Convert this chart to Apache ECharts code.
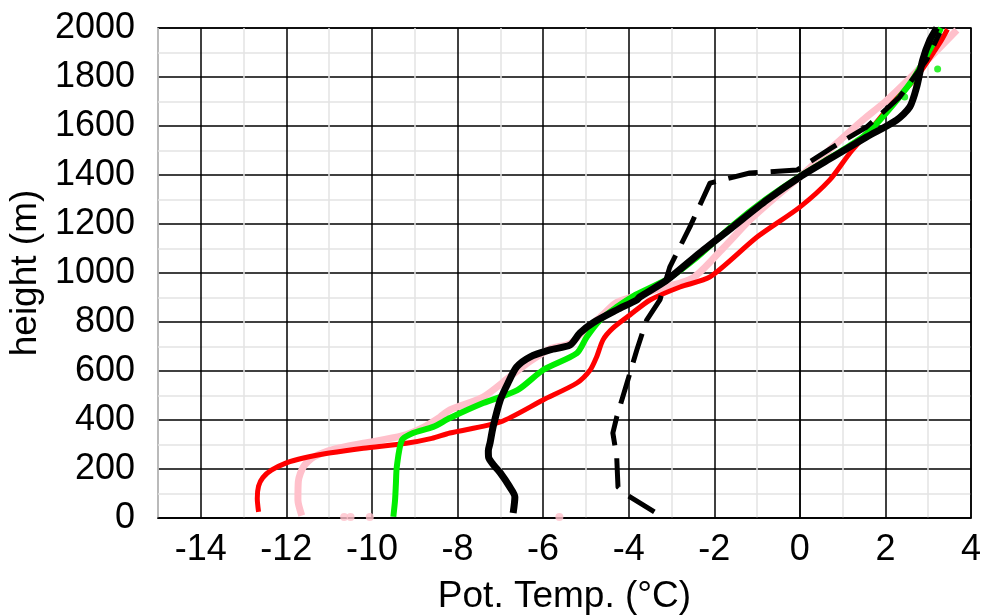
<!DOCTYPE html>
<html>
<head>
<meta charset="utf-8">
<script src="https://cdn.jsdelivr.net/npm/echarts@6/dist/echarts.min.js"></script>
<style>
  html, body { margin: 0; padding: 0; background: #fff; }
  #chart { width: 988px; height: 616px; }
</style>
</head>
<body>
<div id="chart"></div>
<script>
// profiles: potential temperature (°C) vs height (m)
const redT = [-12.65, -12.68, -12.65, -12.55, -12.35, -12.0, -11.6, -11.0, -10.2, -9.2, -8.6, -8.18, -7.0, -6.0, -5.21, -4.9, -4.75, -4.6, -4.37, -3.97, -3.5, -2.8, -2.1, -1.0, 0.0, 0.7, 1.17, 1.64, 2.17, 2.73, 3.27, 3.45];
const redH = [25, 80, 130, 165, 195, 225, 245, 265, 285, 305, 325, 347, 392, 482, 551, 604, 657, 727, 775, 829, 890, 943, 984, 1147, 1269, 1380, 1490, 1584, 1694, 1800, 1939, 1995];

const pinkT = [-11.64, -11.73, -11.72, -11.6, -11.35, -10.9, -10.2, -9.3, -8.8, -8.41, -8.18, -7.4, -6.78, -6.3, -5.84, -5.37, -5.0, -4.6, -4.28, -3.4, -2.5, -1.8, -1.17, -0.5, 0.0, 0.8, 1.47, 2.0, 2.6, 3.1, 3.67];
const pinkH = [10, 73, 150, 210, 250, 280, 305, 335, 370, 412, 441, 494, 576, 640, 690, 712, 770, 830, 880, 930, 980, 1100, 1216, 1320, 1392, 1520, 1624, 1700, 1800, 1890, 1992];
const pinkDotT = [-10.65, -10.5, -10.05, -5.62];
const pinkDotH = [4, 4, 4, 4];

const greenT = [-9.5, -9.46, -9.44, -9.42, -9.3, -9.04, -8.57, -8.18, -7.4, -6.6, -6.0, -5.21, -4.98, -4.67, -4.28, -3.9, -3.1, -2.4, -1.6, -0.8, 0.0, 0.8, 1.5, 2.0, 2.64, 3.0, 3.3];
const greenH = [5, 73, 140, 208, 318, 347, 372, 408, 469, 522, 604, 673, 739, 808, 861, 905, 975, 1065, 1190, 1300, 1395, 1480, 1560, 1650, 1790, 1900, 2000];
const greenDotT = [2.45, 3.22];
const greenDotH = [1718, 1833];

const blackT = [-6.7, -6.66, -6.78, -7.0, -7.15, -7.27, -7.28, -7.24, -7.17, -7.0, -6.82, -6.62, -6.31, -5.84, -5.37, -5.14, -4.84, -4.28, -3.81, -3.74, -3.11, -2.34, -1.57, -0.77, 0.0, 0.77, 1.56, 2.26, 2.57, 2.73, 2.87, 3.04, 3.2];
const blackH = [20, 86, 127, 184, 215, 245, 275, 306, 371, 482, 551, 616, 657, 686, 706, 755, 796, 849, 890, 902, 971, 1082, 1188, 1298, 1392, 1473, 1555, 1624, 1678, 1759, 1869, 1951, 2000];

const dashT = [-3.4, -4.1, -4.25, -4.28, -4.37, -4.28, -4.04, -3.81, -3.58, -3.27, -3.04, -2.57, -2.1, -1.17, -0.07, 0.77, 1.56, 2.33, 2.96, 3.27];
const dashH = [25, 100, 127, 250, 347, 412, 551, 686, 808, 890, 1024, 1188, 1367, 1408, 1420, 1514, 1596, 1718, 1869, 1980];

const font = "'Liberation Sans', Arial, sans-serif";
const pairs = (xs, ys) => xs.map((x, i) => [x, ys[i]]);

const chart = echarts.init(document.getElementById("chart"));

const lineSeries = (xs, ys, color, width, type, smooth) => ({
  type: "line",
  data: pairs(xs, ys),
  showSymbol: false,
  symbol: "none",
  clip: true,
  smooth: smooth || false,
  lineStyle: { color: color, width: width, type: type || "solid", cap: "butt", join: "round" },
});

chart.setOption({
  animation: false,
  grid: {
    left: 158, right: 17, top: 28, bottom: 98,
    outerBoundsMode: "none", containLabel: false,
    show: true, borderColor: "#000", borderWidth: 1.5,
  },
  xAxis: {
    type: "value",
    min: -15,
    max: 4,
    interval: 1,
    name: "Pot. Temp. (°C)",
    nameLocation: "middle",
    nameGap: 60,
    nameTextStyle: { fontSize: 37, color: "#000", fontFamily: font },
    axisLine: { show: true, lineStyle: { color: "#000", width: 1.5 } },
    axisTick: { show: false },
    axisLabel: {
      fontSize: 36, color: "#000", fontFamily: font, margin: 14,
      formatter: (v) => (Math.abs(v % 2) < 1e-9 ? String(v) : ""),
    },
    splitLine: { show: true, lineStyle: { color: ["#e3e3e3", "#000"], width: 1.5 } },
  },
  yAxis: {
    type: "value",
    min: 0,
    max: 2000,
    interval: 100,
    name: "height (m)",
    nameLocation: "middle",
    nameGap: 97,
    nameTextStyle: { fontSize: 37, color: "#000", fontFamily: font },
    axisLine: { show: true, lineStyle: { color: "#000", width: 1.5 } },
    axisTick: { show: false },
    axisLabel: {
      fontSize: 36, color: "#000", fontFamily: font, margin: 23,
      formatter: (v) => (v % 200 === 0 ? String(v) : ""),
    },
    splitLine: { show: true, lineStyle: { color: ["#000", "#e3e3e3"], width: 1.5 } },
  },
  series: [
    lineSeries(pinkT, pinkH, "#ffc0cb", 7, null, 0.25),
    { type: "scatter", data: pairs(pinkDotT, pinkDotH), symbolSize: 8, itemStyle: { color: "#ffc0cb" } },
    lineSeries(redT, redH, "#ff0000", 5, null, 0.25),
    lineSeries(greenT, greenH, "#00ee00", 6, null, 0.25),
    { type: "scatter", data: pairs(greenDotT, greenDotH), symbolSize: 7, itemStyle: { color: "#00ee00" } },
    lineSeries(dashT, dashH, "#000", 5, [30, 13]),
    lineSeries(blackT, blackH, "#000", 7, null, 0.25),
  ],
});
</script>
</body>
</html>
